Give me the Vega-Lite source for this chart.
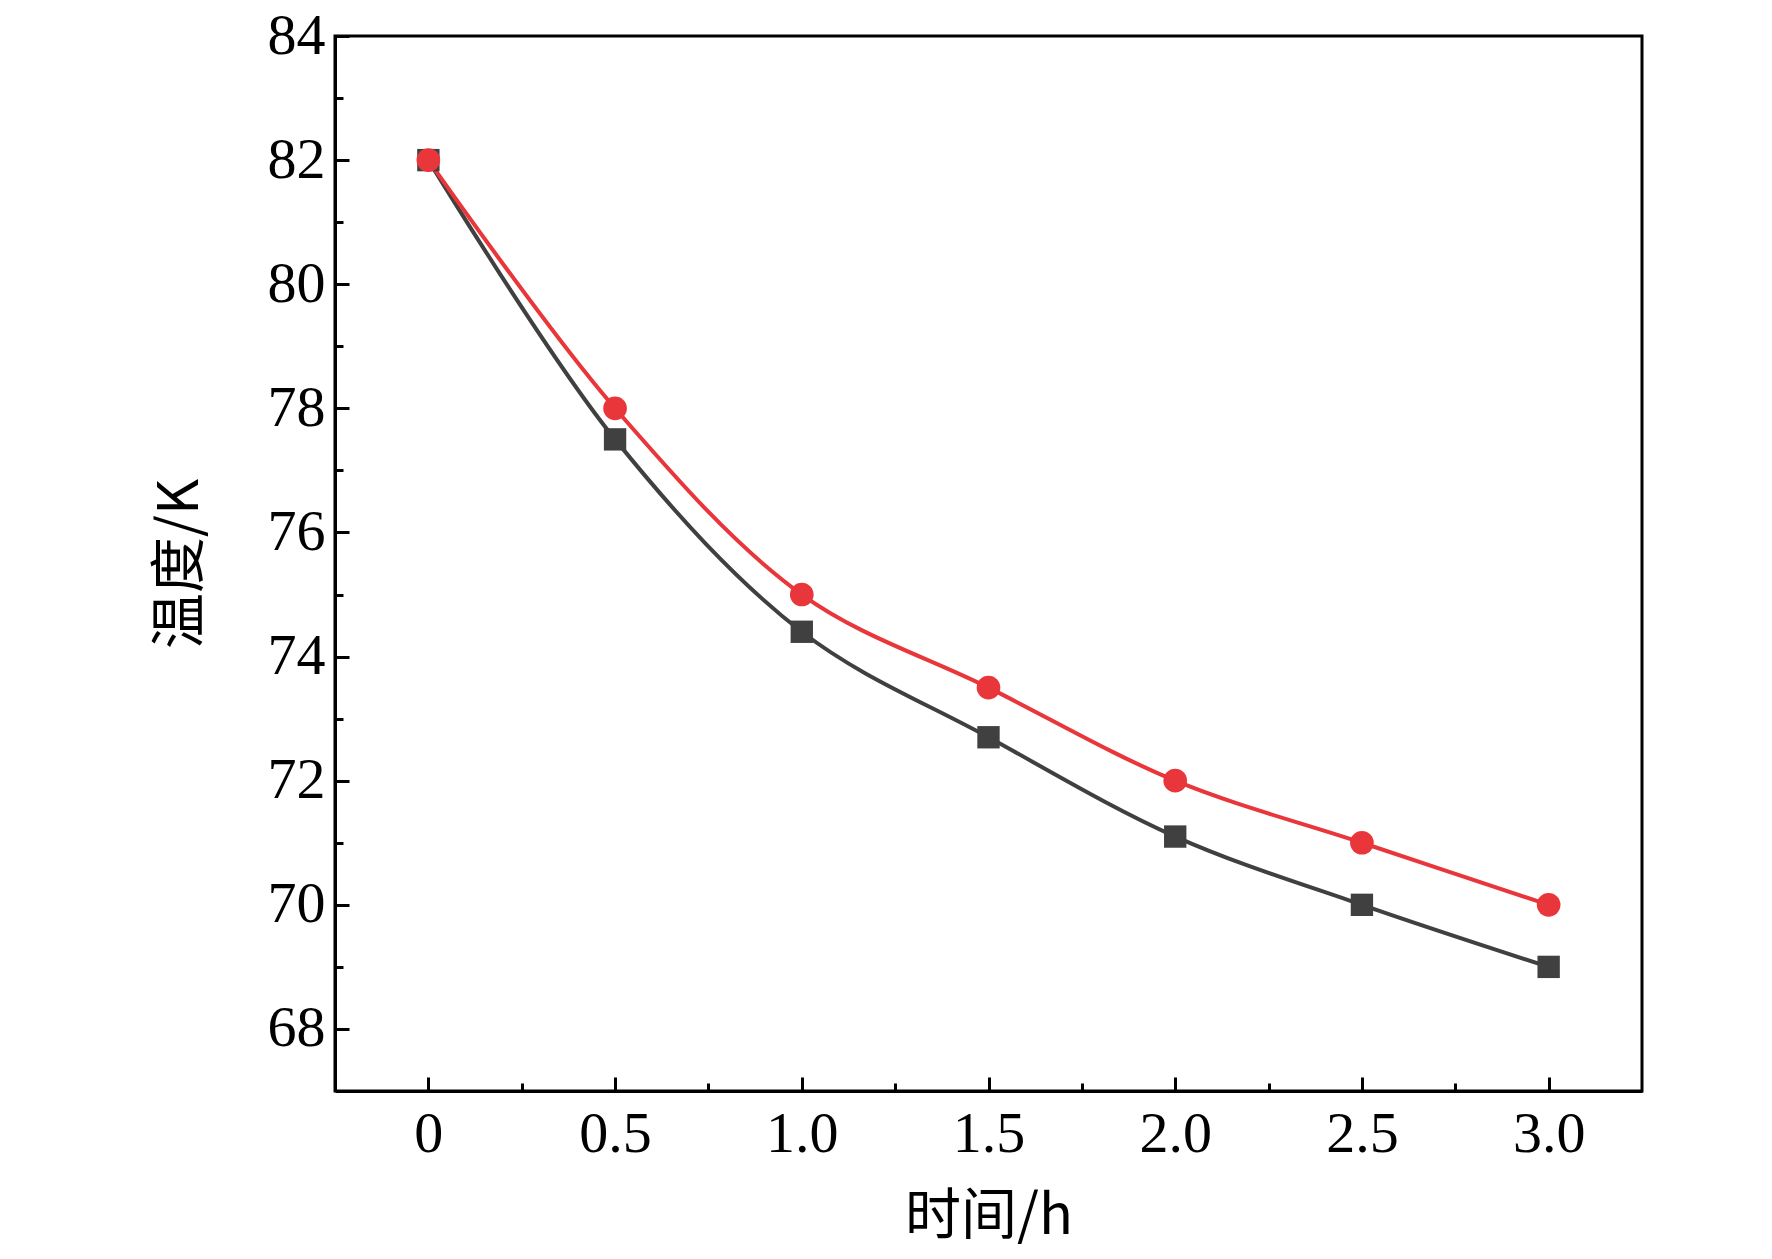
{
  "$schema": "https://vega.github.io/schema/vega-lite/v6.json",
  "width": 1307,
  "height": 1055,
  "autosize": "none",
  "padding": {"left": 335, "top": 36, "right": 130, "bottom": 168},
  "background": "white",
  "config": {
    "view": {"stroke": "black", "strokeWidth": 3},
    "font": "Liberation Serif, Noto Sans CJK SC",
    "axis": {
      "domainColor": "black", "domainWidth": 3, "tickColor": "black", "tickWidth": 3,
      "grid": false, "labelFont": "Liberation Serif", "labelFontSize": 58, "labelColor": "black",
      "titleFont": "Noto Sans CJK SC, Liberation Serif", "titleFontSize": 56, "titleFontWeight": "normal", "titleColor": "black"
    }
  },
  "data": {
    "values": [
      {"t": 0, "temp": 82, "series": "仿真结果"},
      {"t": 0.5, "temp": 77.5, "series": "仿真结果"},
      {"t": 1.0, "temp": 74.4, "series": "仿真结果"},
      {"t": 1.5, "temp": 72.7, "series": "仿真结果"},
      {"t": 2.0, "temp": 71.1, "series": "仿真结果"},
      {"t": 2.5, "temp": 70, "series": "仿真结果"},
      {"t": 3.0, "temp": 69, "series": "仿真结果"},
      {"t": 0, "temp": 82, "series": "实验数据"},
      {"t": 0.5, "temp": 78, "series": "实验数据"},
      {"t": 1.0, "temp": 75, "series": "实验数据"},
      {"t": 1.5, "temp": 73.5, "series": "实验数据"},
      {"t": 2.0, "temp": 72, "series": "实验数据"},
      {"t": 2.5, "temp": 71, "series": "实验数据"},
      {"t": 3.0, "temp": 70, "series": "实验数据"}
    ]
  },
  "encoding": {
    "x": {
      "field": "t", "type": "quantitative", "title": "时间/h",
      "scale": {"domain": [-0.25, 3.25], "nice": false, "zero": false},
      "axis": {
        "values": [0, 0.25, 0.5, 0.75, 1, 1.25, 1.5, 1.75, 2, 2.25, 2.5, 2.75, 3],
        "labelExpr": "(datum.value * 2) % 1 != 0 ? '' : (datum.value == 0 ? '0' : format(datum.value, '.1f'))",
        "tickSize": {"condition": {"test": "(datum.value * 2) % 1 == 0", "value": -14}, "value": -8},
        "labelPadding": 28, "titlePadding": 26
      }
    },
    "y": {
      "field": "temp", "type": "quantitative", "title": "温度/K",
      "scale": {"domain": [67, 84], "nice": false, "zero": false},
      "axis": {
        "values": [68, 69, 70, 71, 72, 73, 74, 75, 76, 77, 78, 79, 80, 81, 82, 83, 84],
        "labelExpr": "datum.value % 2 == 0 ? datum.label : ''",
        "tickSize": {"condition": {"test": "datum.value % 2 == 0", "value": -14}, "value": -8},
        "labelPadding": 24, "titlePadding": 58
      }
    },
    "color": {
      "field": "series", "type": "nominal", "legend": null,
      "scale": {"domain": ["仿真结果", "实验数据"], "range": ["#404040", "#e8363a"]}
    }
  },
  "layer": [
    {
      "mark": {"type": "line", "interpolate": "catmull-rom", "strokeWidth": 4}
    },
    {
      "transform": [{"filter": "datum.series == '仿真结果'"}],
      "mark": {"type": "point", "shape": "square", "filled": true, "opacity": 1, "size": 500}
    },
    {
      "transform": [{"filter": "datum.series == '实验数据'"}],
      "mark": {"type": "point", "shape": "circle", "filled": true, "opacity": 1, "size": 560}
    },
    {
      "mark": {"type": "point", "filled": true, "opacity": 0, "size": 1},
      "encoding": {
        "color": {"value": "#404040"},
        "shape": {
          "field": "series", "type": "nominal",
          "scale": {
            "domain": ["仿真结果", "实验数据"],
            "range": [
              "M-1,0H1M-0.085,-0.085H0.085V0.085H-0.085Z",
              "M-1,0H1M-0.09,0A0.09,0.09 0 1,0 0.09,0A0.09,0.09 0 1,0 -0.09,0Z"
            ]
          },
          "legend": {
            "title": null, "orient": "none", "legendX": 820, "legendY": 60,
            "symbolSize": 18500, "symbolOpacity": 1, "symbolStrokeWidth": 4,
            "labelFont": "Noto Sans CJK SC", "labelFontSize": 58, "labelColor": "black",
            "labelOffset": 12, "rowPadding": 14,
            "encode": {"symbols": {"update": {
              "stroke": {"signal": "datum.value == '仿真结果' ? '#404040' : '#e8363a'"},
              "fill": {"signal": "datum.value == '仿真结果' ? '#404040' : '#e8363a'"},
              "opacity": {"value": 1}
            }}}
          }
        }
      }
    }
  ]
}
